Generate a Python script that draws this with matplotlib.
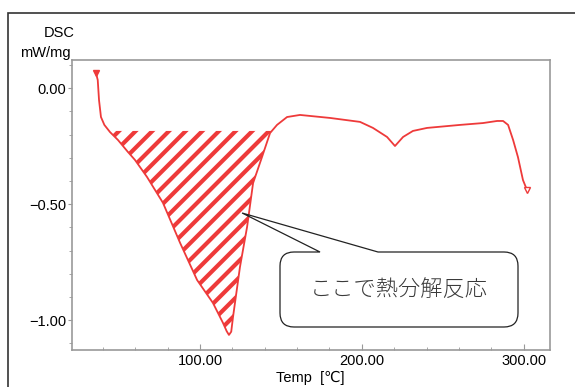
import matplotlib
matplotlib.use("Agg")
import matplotlib.pyplot as plt
from matplotlib.path import Path
from matplotlib.patches import PathPatch, Rectangle
from matplotlib.transforms import IdentityTransform
from matplotlib.ticker import MultipleLocator, FuncFormatter

# DSC trace (temperature in degC, heat flow in mW/mg)
temp = [35.7, 36.8, 37.6, 38.8, 40.9, 44.4, 49.3, 55.5, 59.8, 67.3, 77.1, 87.7,
        98.2, 108.0, 114.2, 116.5, 117.9, 119.3, 120.4, 124.7, 129.1, 132.8,
        138.3, 143.3, 147.6, 153.8, 161.8, 180.4, 198.9, 206.9, 215.6, 220.5,
        225.5, 231.6, 240.3, 260.7, 274.9, 283.6, 287.3, 290.4, 293.5, 296.5,
        299.6, 302.1]
dsc = [0.066, 0.036, -0.051, -0.124, -0.158, -0.189, -0.223, -0.275, -0.309,
       -0.383, -0.494, -0.667, -0.827, -0.926, -1.012, -1.048, -1.064, -1.050,
       -0.987, -0.771, -0.598, -0.409, -0.297, -0.193, -0.158, -0.124, -0.115,
       -0.128, -0.145, -0.171, -0.210, -0.249, -0.210, -0.184, -0.171, -0.158,
       -0.150, -0.141, -0.141, -0.158, -0.223, -0.297, -0.396, -0.439]
baseline = -0.184
peak_range = (40, 150)
note = "ここで熱分解反応"
note_tip = (126, -0.538)

W, H = 575, 387
RED = "#ee3a3a"

plt.rcParams["font.family"] = ["Liberation Sans", "DejaVu Sans"]
plt.rcParams["hatch.linewidth"] = 3.0

fig = plt.figure(figsize=(W / 100, H / 100), dpi=100)
ax = fig.add_axes([72 / W, 1 - 350 / H, 478 / W, 290 / H])

# outer frame (only left and top edges are visible)
fig.patches.append(Rectangle((8, -20), W + 40, H - 13 + 20, transform=IdentityTransform(),
                             fill=False, edgecolor="#333333", linewidth=1.2))

ax.plot(temp, dsc, color=RED, lw=1.3)
ax.plot(temp[0], dsc[0], marker="v", ms=4.5, color=RED)
ax.plot(temp[-1], dsc[-1], marker="v", ms=5, mfc="white", mec=RED, mew=1)

# hatched decomposition peak below the baseline
in_peak = [peak_range[0] <= t <= peak_range[1] and v <= baseline for t, v in zip(temp, dsc)]
ax.fill_between(temp, dsc, baseline, where=in_peak, interpolate=True,
                facecolor="none", edgecolor=RED, hatch="//", linewidth=0)

ax.set_xlim(20.9, 316.3)
ax.set_ylim(-1.129, 0.122)
ax.xaxis.set_major_locator(MultipleLocator(100))
ax.xaxis.set_minor_locator(MultipleLocator(20))
ax.yaxis.set_major_locator(MultipleLocator(0.5))
ax.yaxis.set_minor_locator(MultipleLocator(0.1))
fmt = FuncFormatter(lambda v, pos: f"{v:.2f}".replace("-", "\u2212"))
ax.xaxis.set_major_formatter(fmt)
ax.yaxis.set_major_formatter(fmt)
for s in ax.spines.values():
    s.set_color("#999999")
    s.set_linewidth(1.2)
ax.tick_params(axis="x", which="both", direction="in", colors="#999999", labelcolor="black",
               labelsize=10.5, pad=3)
ax.tick_params(axis="x", which="major", length=4)
ax.tick_params(axis="x", which="minor", length=2.5)
ax.tick_params(axis="y", which="both", direction="out", colors="#999999", labelcolor="black",
               labelsize=10.5, pad=1)
ax.tick_params(axis="y", which="major", length=3)
ax.tick_params(axis="y", which="minor", length=2)

fig.text(75 / W, 1 - 33 / H, "DSC", ha="right", va="center", fontsize=10.5)
fig.text(71 / W, 1 - 53 / H, "mW/mg", ha="right", va="center", fontsize=10.5)
fig.text(310 / W, 1 - 378 / H, "Temp  [℃]", ha="center", va="center", fontsize=10.5,
         family=["Liberation Sans", "DejaVu Sans"])

# speech bubble with a tail pointing into the peak
tip_x, tip_y = ax.transData.transform(note_tip)
L, R, T, B, r = 280, 518, H - 252, H - 327, 14
verts = [(320, T), (tip_x, tip_y), (378, T), (R - r, T), (R, T), (R, T - r),
         (R, B + r), (R, B), (R - r, B), (L + r, B), (L, B), (L, B + r),
         (L, T - r), (L, T), (L + r, T), (320, T)]
codes = [Path.MOVETO, Path.LINETO, Path.LINETO, Path.LINETO, Path.CURVE3, Path.CURVE3,
         Path.LINETO, Path.CURVE3, Path.CURVE3, Path.LINETO, Path.CURVE3, Path.CURVE3,
         Path.LINETO, Path.CURVE3, Path.CURVE3, Path.CLOSEPOLY]
fig.patches.append(PathPatch(Path(verts, codes), transform=IdentityTransform(),
                             facecolor="white", edgecolor="#222222", linewidth=0.9))
fig.text((L + R) / 2 / W, (T + B) / 2 / H, note, ha="center", va="center", fontsize=16,
         color="#3a3a3a", family=["Noto Sans CJK JP", "DejaVu Sans"], fontweight="light")

fig.savefig("out.png", dpi=100)
